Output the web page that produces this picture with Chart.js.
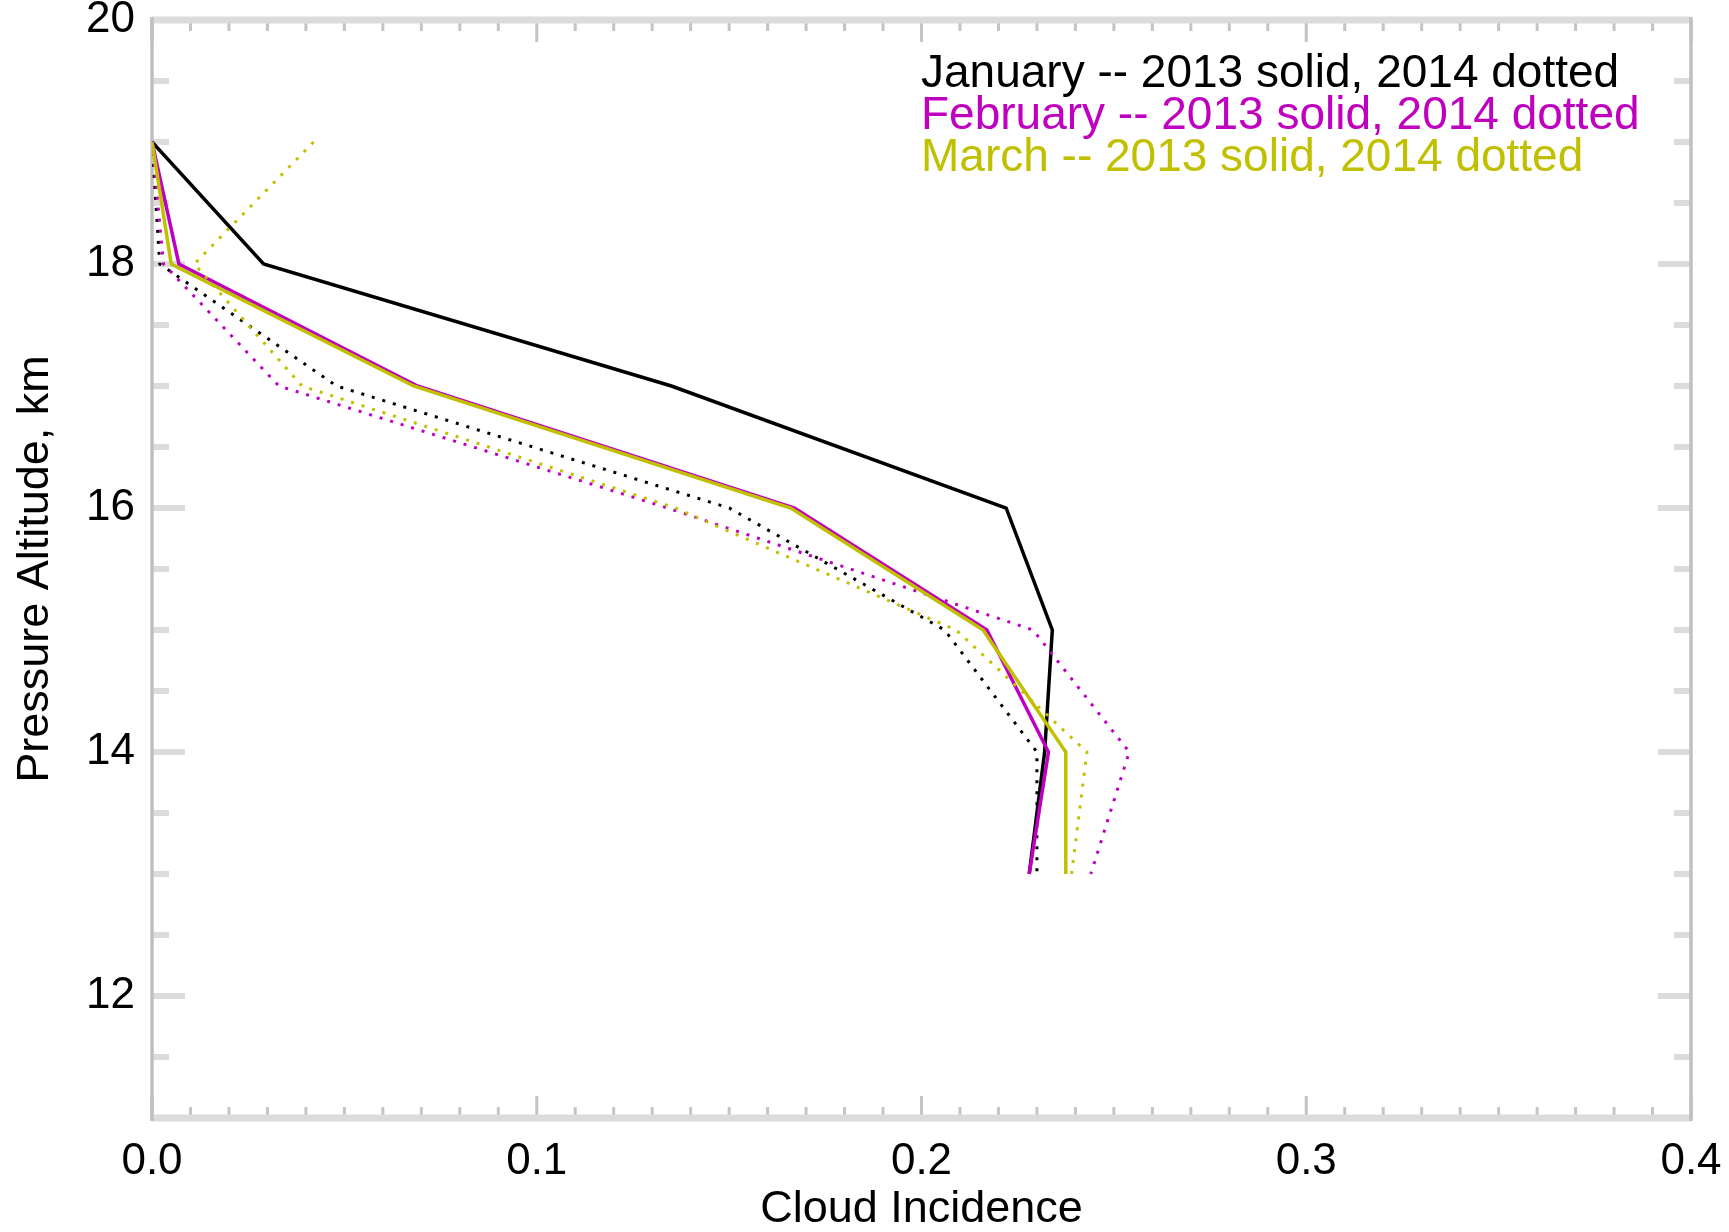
<!DOCTYPE html>
<html>
<head>
<meta charset="utf-8">
<script src="https://cdn.jsdelivr.net/npm/chart.js@4.4.1/dist/chart.umd.min.js"></script>
<style>
  html, body { margin: 0; padding: 0; background: #fff; }
  canvas { display: block; }
</style>
</head>
<body>
<canvas id="cloudChart" width="1729" height="1232"></canvas>
<script>
/* data: cloud incidence per pressure-altitude level */
const altitudes = [19, 18, 17, 16, 15, 14, 13];

const jan2013 = [0.000, 0.029, 0.135, 0.222, 0.234, 0.232, 0.228];
const jan2014 = [0.000, 0.002, 0.048, 0.150, 0.206, 0.230, 0.230];
const feb2013 = [0.000, 0.007, 0.069, 0.167, 0.217, 0.233, 0.228];
const feb2014 = [0.000, 0.003, 0.033, 0.134, 0.229, 0.254, 0.244];
const mar2013 = [0.000, 0.005, 0.068, 0.166, 0.216, 0.2375, 0.2375];
const mar2014 = [0.042, 0.011, 0.039, 0.136, 0.209, 0.243, 0.239];

const xTickValues = [0.0, 0.1, 0.2, 0.3, 0.4];
const yTickValues = [12, 14, 16, 18, 20];

const legendLines = [
  "January -- 2013 solid, 2014 dotted",
  "February -- 2013 solid, 2014 dotted",
  "March -- 2013 solid, 2014 dotted",
];

const BLACK = "#000000";
const MAGENTA = "#c000c0";
const YELLOW = "#c0c000";
const legendColors = [BLACK, MAGENTA, YELLOW];
const FONT = "'Liberation Sans', Arial, Helvetica, sans-serif";

function toPoints(values) {
  return values.map((v, i) => ({ x: v, y: altitudes[i] }));
}

function solid(values, color, order) {
  return {
    data: toPoints(values),
    borderColor: color,
    borderWidth: 3.5,
    pointRadius: 0,
    showLine: true,
    fill: false,
    order: order,
  };
}

function dotted(values, color, order) {
  return {
    data: toPoints(values),
    borderColor: color,
    borderWidth: 3,
    borderDash: [3, 8],
    pointRadius: 0,
    showLine: true,
    fill: false,
    order: order,
  };
}

/* frame with inward ticks on all four sides, IDL style */
const frameTicks = {
  id: "frameTicks",
  beforeDatasetsDraw(chart) {
    const { ctx, chartArea: a } = chart;
    const xs = chart.scales.x;
    const ys = chart.scales.y;
    ctx.save();

    // x ticks (vertical strokes), every 0.01, long at every 0.1
    ctx.strokeStyle = "#c4c4c4";
    ctx.lineWidth = 3;
    for (let i = 0; i <= 40; i++) {
      const px = xs.getPixelForValue(i / 100);
      const len = i % 10 === 0 ? 22 : 11;
      ctx.beginPath();
      ctx.moveTo(px, a.bottom);
      ctx.lineTo(px, a.bottom - len);
      ctx.moveTo(px, a.top);
      ctx.lineTo(px, a.top + len);
      ctx.stroke();
    }

    // y ticks (horizontal strokes), every 0.5 km, long at every 2 km
    ctx.strokeStyle = "#dcdcdc";
    ctx.lineWidth = 6;
    for (let v = 11; v <= 20; v += 0.5) {
      const py = ys.getPixelForValue(v);
      const len = v % 2 === 0 ? 33 : 17;
      ctx.beginPath();
      ctx.moveTo(a.left, py);
      ctx.lineTo(a.left + len, py);
      ctx.moveTo(a.right, py);
      ctx.lineTo(a.right - len, py);
      ctx.stroke();
    }

    // top and bottom axis lines
    ctx.strokeStyle = "#dcdcdc";
    ctx.lineWidth = 7;
    ctx.beginPath();
    ctx.moveTo(a.left, a.top);
    ctx.lineTo(a.right, a.top);
    ctx.moveTo(a.left, a.bottom);
    ctx.lineTo(a.right, a.bottom);
    ctx.stroke();

    // left and right axis lines
    ctx.strokeStyle = "#c0c0c0";
    ctx.lineWidth = 3.5;
    ctx.beginPath();
    ctx.moveTo(a.left, a.top - 3);
    ctx.lineTo(a.left, a.bottom + 3);
    ctx.moveTo(a.right, a.top - 3);
    ctx.lineTo(a.right, a.bottom + 3);
    ctx.stroke();

    ctx.restore();
  },
  afterDraw(chart) {
    const { ctx } = chart;
    ctx.save();
    ctx.font = "46px " + FONT;
    ctx.textAlign = "left";
    ctx.textBaseline = "alphabetic";
    legendLines.forEach((txt, i) => {
      ctx.fillStyle = legendColors[i];
      ctx.fillText(txt, 921, 87 + i * 42);
    });
    ctx.restore();
  },
};

document.addEventListener("DOMContentLoaded", function () {
  const ctx = document.getElementById("cloudChart").getContext("2d");
  new Chart(ctx, {
    type: "scatter",
    data: {
      datasets: [
        dotted(jan2014, BLACK, 6),
        solid(jan2013, BLACK, 5),
        dotted(feb2014, MAGENTA, 4),
        solid(feb2013, MAGENTA, 3),
        dotted(mar2014, YELLOW, 2),
        solid(mar2013, YELLOW, 1),
      ],
    },
    options: {
      responsive: false,
      animation: false,
      layout: {
        padding: { top: 20, right: 38, left: 0, bottom: 0 },
      },
      plugins: {
        legend: { display: false },
        title: { display: false },
        tooltip: { enabled: false },
      },
      scales: {
        x: {
          type: "linear",
          min: 0,
          max: 0.4,
          grid: { display: false, drawTicks: false },
          border: { display: false },
          afterBuildTicks: (s) => { s.ticks = xTickValues.map((v) => ({ value: v })); },
          afterFit: (s) => {
            s.height = 114;
            s.paddingLeft = 0;
            s.paddingRight = 0;
          },
          ticks: {
            autoSkip: false,
            maxRotation: 0,
            padding: 17,
            color: "#000",
            font: { family: FONT, size: 44 },
            callback: (v) => Number(v).toFixed(1),
          },
          title: {
            display: true,
            text: "Cloud Incidence",
            color: "#000",
            font: { family: FONT, size: 45, lineHeight: 1 },
            padding: { top: 0, bottom: 0 },
          },
        },
        y: {
          type: "linear",
          min: 11,
          max: 20,
          grid: { display: false, drawTicks: false },
          border: { display: false },
          afterBuildTicks: (s) => { s.ticks = yTickValues.map((v) => ({ value: v })); },
          afterFit: (s) => {
            s.width = 152;
            s.paddingTop = 0;
            s.paddingBottom = 0;
          },
          ticks: {
            autoSkip: false,
            padding: 17,
            color: "#000",
            font: { family: FONT, size: 44 },
            callback: (v) => String(v),
          },
          title: {
            display: true,
            text: "Pressure Altitude, km",
            color: "#000",
            font: { family: FONT, size: 45, lineHeight: 1 },
            padding: { top: 13, bottom: 0 },
          },
        },
      },
    },
    plugins: [frameTicks],
  });
});
</script>
</body>
</html>
